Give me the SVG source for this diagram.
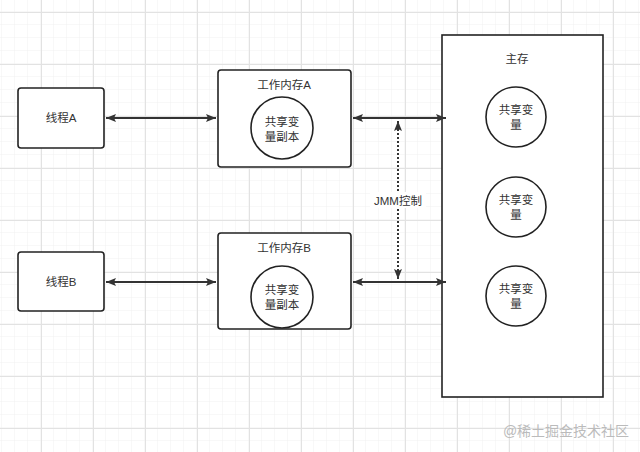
<svg xmlns="http://www.w3.org/2000/svg" width="640" height="452" viewBox="0 0 640 452">
<defs>
<pattern id="minor" width="13" height="13" patternUnits="userSpaceOnUse" x="2" y="12">
<path d="M13 0V13M0 13H13" fill="none" stroke="#f0f0f0" stroke-width="1"/>
</pattern>
<pattern id="major" width="52" height="52" patternUnits="userSpaceOnUse" x="41" y="12">
<path d="M0.5 0V52M0 0.5H52" fill="none" stroke="#e2e2e2" stroke-width="1"/>
</pattern>
<marker id="ah" viewBox="0 0 10 8" refX="10" refY="4" markerWidth="10" markerHeight="8" markerUnits="userSpaceOnUse" orient="auto-start-reverse">
<path d="M0 0L10 4L0 8L2 4Z" fill="#333"/>
</marker>
</defs>
<style>
.box{fill:#fff;stroke:#222;stroke-width:1.6}
.circ{fill:#fff;stroke:#222;stroke-width:1.6}
.t{font-family:"Liberation Sans","Noto Sans CJK SC",sans-serif;font-size:11.5px;fill:#333;text-anchor:middle}
.conn{fill:none;stroke:#333;stroke-width:2}
.dot{fill:none;stroke:#333;stroke-width:2;stroke-dasharray:2 2}
</style>
<rect width="640" height="452" fill="#fff"/>
<rect width="640" height="452" fill="url(#minor)"/>
<rect width="640" height="452" fill="url(#major)"/>

<g id="threadA">
<rect class="box" x="18" y="88" width="86" height="60" rx="3"/>
<text class="t" x="61" y="122">线程A</text>
</g>
<g id="threadB">
<rect class="box" x="18" y="252" width="86" height="59" rx="3"/>
<text class="t" x="61" y="286">线程B</text>
</g>
<g id="workA">
<rect class="box" x="218" y="70" width="133" height="97" rx="3"/>
<text class="t" x="284" y="89">工作内存A</text>
<circle class="circ" cx="282" cy="128" r="31"/>
<text class="t" x="282" y="126">共享变</text>
<text class="t" x="282" y="141">量副本</text>
</g>
<g id="workB">
<rect class="box" x="218" y="233" width="133" height="96" rx="3"/>
<text class="t" x="284" y="252">工作内存B</text>
<circle class="circ" cx="282" cy="297" r="31"/>
<text class="t" x="282" y="294">共享变</text>
<text class="t" x="282" y="309">量副本</text>
</g>
<g id="main">
<rect class="box" x="442" y="35" width="161" height="362"/>
<text class="t" x="517" y="63">主存</text>
<circle class="circ" cx="516" cy="117" r="30"/>
<text class="t" x="516" y="114">共享变</text>
<text class="t" x="516" y="129">量</text>
<circle class="circ" cx="516" cy="207" r="30"/>
<text class="t" x="516" y="204">共享变</text>
<text class="t" x="516" y="219">量</text>
<circle class="circ" cx="516" cy="296" r="30"/>
<text class="t" x="516" y="293">共享变</text>
<text class="t" x="516" y="308">量</text>
</g>
<g id="connectors">
<path class="conn" d="M106 118H216" marker-start="url(#ah)" marker-end="url(#ah)"/>
<path class="conn" d="M106 282H216" marker-start="url(#ah)" marker-end="url(#ah)"/>
<path class="conn" d="M353 118H446" marker-start="url(#ah)" marker-end="url(#ah)"/>
<path class="conn" d="M353 282H446" marker-start="url(#ah)" marker-end="url(#ah)"/>
<path class="dot" d="M398 121V279" marker-start="url(#ah)" marker-end="url(#ah)"/>
<rect x="370" y="192" width="56" height="16" fill="#fff"/>
<text class="t" x="398" y="205">JMM控制</text>
</g>
<text x="566" y="436" font-family="'Liberation Sans','Noto Sans CJK SC',sans-serif" font-size="14" fill="#bbb" text-anchor="middle">@稀土掘金技术社区</text>
</svg>
